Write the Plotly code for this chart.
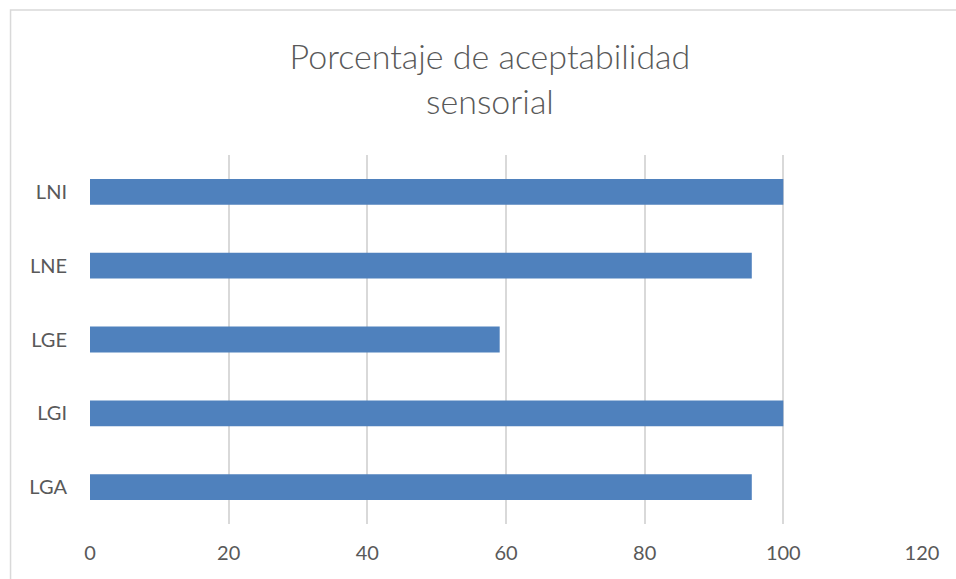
import plotly.graph_objects as go

categories = ["LGA", "LGI", "LGE", "LNE", "LNI"]
values = [95.45, 100, 59.09, 95.45, 100]
x_ticks = [0, 20, 40, 60, 80, 100, 120]

W, H = 956, 579
L, R, T, B = 89.5, 34, 155, 55
pw = W - L - R
ph = H - T - B

FONT = "Lato, Open Sans, sans-serif"

fig = go.Figure(go.Bar(
    y=categories, x=values, orientation="h",
    marker=dict(color="#4F81BD", line=dict(width=0)),
    width=0.35,
))

fig.update_layout(
    width=W, height=H,
    margin=dict(l=L, r=R, t=T, b=B),
    paper_bgcolor="white", plot_bgcolor="white",
    showlegend=False,
    title=dict(
        text="Porcentaje de aceptabilidad<br>sensorial",
        x=0.5125, xanchor="center", y=0.88, yanchor="middle",
        font=dict(family=FONT, size=34, color="#595959", weight=300),
    ),
    xaxis=dict(
        range=[0, 120], tickvals=x_ticks, showgrid=True,
        gridcolor="#D9D9D9", gridwidth=1.5, zeroline=False,
        showline=False, ticks="", ticklabelstandoff=15,
        tickfont=dict(family=FONT, size=20, color="#595959"),
        fixedrange=True,
    ),
    yaxis=dict(
        categoryorder="array", categoryarray=categories,
        showgrid=False, zeroline=False, showline=False, ticks="",
        ticklabelstandoff=22,
        tickfont=dict(family=FONT, size=20, color="#595959"),
    ),
    shapes=[dict(
        type="rect", xref="paper", yref="paper",
        x0=(10 - L) / pw, x1=(W + 20 - L) / pw,
        y0=-(H + 20 - T - ph) / ph, y1=(H - 10 - B) / ph,
        line=dict(color="#D9D9D9", width=1.5), fillcolor="rgba(0,0,0,0)",
        layer="below",
    )],
)

fig.write_html("out.html")
